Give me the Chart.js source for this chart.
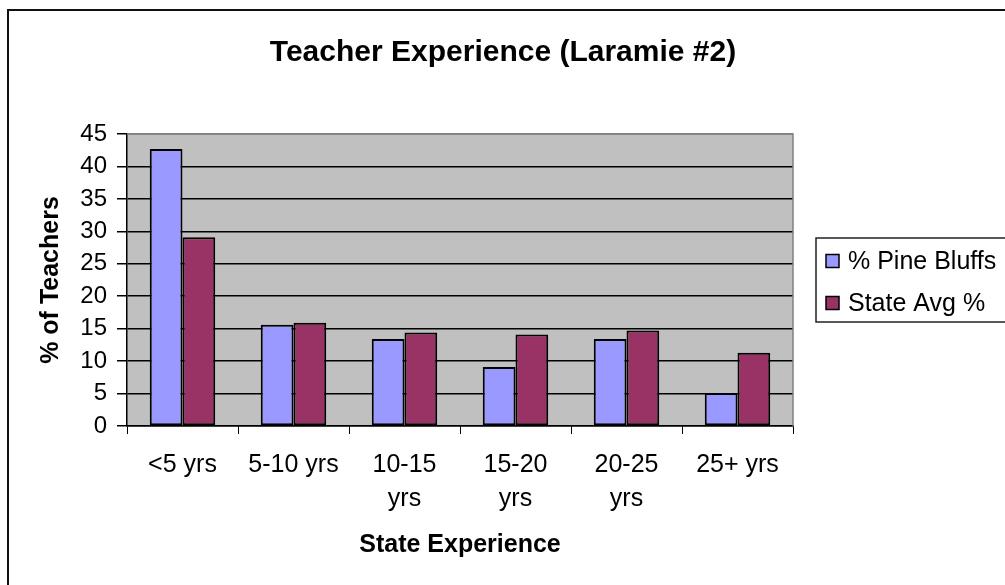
<!DOCTYPE html>
<html>
<head>
<meta charset="utf-8">
<title>Teacher Experience (Laramie #2)</title>
<script src="https://cdn.jsdelivr.net/npm/chart.js@4/dist/chart.umd.min.js"></script>
<style>
  html, body { margin: 0; padding: 0; background: #fff; }
  canvas { display: block; }
</style>
</head>
<body>
<canvas id="chart" width="1005" height="585"></canvas>
<script>
// ── Données ────────────────────────────────────────────────────────────────
const chartTitle  = 'Teacher Experience (Laramie #2)';
const categories  = [['<5 yrs'], ['5-10 yrs'], ['10-15', 'yrs'], ['15-20', 'yrs'], ['20-25', 'yrs'], ['25+ yrs']];
const pineBluffs  = [42.7, 15.6, 13.4, 9.1, 13.4, 5.1];
const stateAvg    = [29.1, 15.9, 14.4, 14.1, 14.7, 11.3];
const seriesNames = ['% Pine Bluffs', 'State Avg %'];
const yTicks      = { min: 0, max: 45, step: 5 };

const FONT = "'Liberation Sans', Arial, sans-serif";

// ── Plugins de décor ───────────────────────────────────────────────────────

// Cadre extérieur, titre centré sur toute la largeur, fond gris du tracé
const frame = {
  id: 'frame',
  beforeDraw(chart) {
    const { ctx, chartArea: a } = chart;
    ctx.save();
    ctx.fillStyle = '#c0c0c0';
    ctx.fillRect(a.left, a.top, a.right - a.left, a.bottom - a.top);
    ctx.strokeStyle = '#111';
    ctx.lineWidth = 2;
    ctx.beginPath();
    ctx.moveTo(8, chart.height);
    ctx.lineTo(8, 10);
    ctx.lineTo(chart.width, 10);
    ctx.stroke();
    ctx.fillStyle = '#000';
    ctx.font = 'bold 30px ' + FONT;
    ctx.textAlign = 'center';
    ctx.textBaseline = 'middle';
    ctx.fillText(chartTitle, 503, 53);
    ctx.restore();
  },
  afterDraw(chart) {
    const { ctx, chartArea: a } = chart;
    ctx.save();
    ctx.strokeStyle = '#808080';
    ctx.lineWidth = 1.5;
    ctx.beginPath();
    ctx.moveTo(a.left, a.top);
    ctx.lineTo(a.right, a.top);
    ctx.lineTo(a.right, a.bottom);
    ctx.stroke();
    ctx.restore();
  },
};

// Légende façon Excel, à droite, dessinée depuis les datasets
const sideLegend = {
  id: 'sideLegend',
  afterDraw(chart) {
    const { ctx } = chart;
    const x = 816, y = 238, h = 84;
    ctx.save();
    ctx.fillStyle = '#fff';
    ctx.fillRect(x, y, chart.width - x + 2, h);
    ctx.strokeStyle = '#222';
    ctx.lineWidth = 1.5;
    ctx.strokeRect(x, y, chart.width - x + 10, h);
    ctx.font = '25px ' + FONT;
    ctx.textBaseline = 'middle';
    chart.data.datasets.forEach((ds, i) => {
      const cy = 261 + i * 42;
      ctx.fillStyle = ds.backgroundColor;
      ctx.fillRect(826, cy - 6.5, 13, 13);
      ctx.strokeStyle = '#000';
      ctx.lineWidth = 1.5;
      ctx.strokeRect(826, cy - 6.5, 13, 13);
      ctx.fillStyle = '#000';
      ctx.fillText(ds.label, 848, cy + 1);
    });
    ctx.restore();
  },
};

// ── Graphique ──────────────────────────────────────────────────────────────
new Chart(document.getElementById('chart'), {
  type: 'bar',
  data: {
    labels: categories,
    datasets: [
      { label: seriesNames[0], data: pineBluffs, backgroundColor: '#9999ff' },
      { label: seriesNames[1], data: stateAvg,   backgroundColor: '#993366' },
    ].map(d => ({
      ...d,
      borderColor: '#000',
      borderWidth: 2,
      borderSkipped: false,
      categoryPercentage: 0.59,
      barPercentage: 1,
    })),
  },
  options: {
    responsive: false,
    animation: false,
    layout: { padding: { top: 134, left: 0, right: 212, bottom: 19 } },
    plugins: {
      legend: { display: false },
      tooltip: { enabled: false },
      title: { display: false },
    },
    scales: {
      x: {
        afterFit: s => { s.height = 140; },
        grid: {
          offset: true,
          drawOnChartArea: false,
          drawTicks: true,
          tickLength: 8,
          color: '#000',
        },
        border: { color: '#000', width: 1.5 },
        ticks: {
          color: '#000',
          padding: 14,
          maxRotation: 0,
          autoSkip: false,
          font: { family: FONT, size: 25, lineHeight: 1.36 },
        },
        title: {
          display: true,
          text: 'State Experience',
          color: '#000',
          font: { family: FONT, size: 25, weight: 'bold', lineHeight: 1.2 },
          padding: { top: 0, bottom: 6 },
        },
      },
      y: {
        min: yTicks.min,
        max: yTicks.max,
        afterFit: s => { s.width = 127; },
        grid: {
          color: c => c.tick && c.tick.value === yTicks.max ? '#808080' : '#000',
          tickColor: '#000',
          lineWidth: 1.5,
          tickLength: 10,
        },
        border: { color: '#000', width: 1.5 },
        ticks: {
          stepSize: yTicks.step,
          color: '#000',
          padding: 10,
          font: { family: FONT, size: 24 },
        },
        title: {
          display: true,
          text: '% of Teachers',
          color: '#000',
          font: { family: FONT, size: 25, weight: 'bold', lineHeight: 1.2 },
          padding: { top: 36, bottom: 0 },
        },
      },
    },
  },
  plugins: [frame, sideLegend],
});
</script>
</body>
</html>
